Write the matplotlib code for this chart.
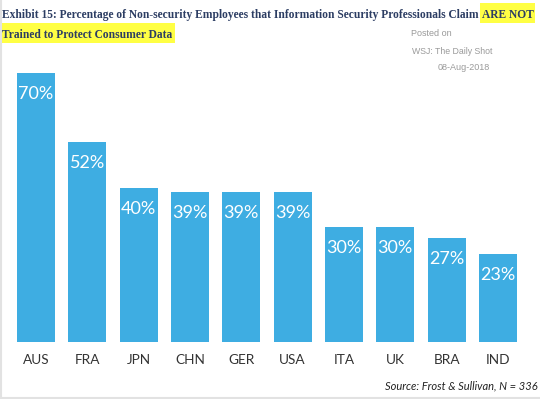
import matplotlib
matplotlib.use('Agg')
import matplotlib.pyplot as plt
from matplotlib.patches import Rectangle

"""
  Chart data
"""
countries = ['AUS', 'FRA', 'JPN', 'CHN', 'GER', 'USA', 'ITA', 'UK', 'BRA', 'IND']
pct = [70, 52, 40, 39, 39, 39, 30, 30, 27, 23]

title_1 = 'Exhibit 15: Percentage of Non-security Employees that Information Security Professionals Claim '
title_hl_1 = 'ARE NOT'
title_hl_2 = 'Trained to Protect Consumer Data'
source = 'Source: Frost & Sullivan, N = 336'

bar_color = '#3eade2'
title_color = '#2c3d63'
hl_color = '#ffff44'
label_font = 'Lato'

W, H = 540, 399
fig = plt.figure(figsize=(W / 100, H / 100), dpi=100)

"""
  Bars
"""
left = 10.3 / W
right = 523.6 / W
bottom = (H - 342) / H
top = 73 / H
ax = fig.add_axes([left, bottom, right - left, 1 - top - bottom])
x = range(len(countries))
ax.bar(x, pct, width=0.74, color=bar_color)
ax.set_xlim(-0.5, len(countries) - 0.5)
ax.set_ylim(0, 70)
for s in ax.spines.values():
    s.set_visible(False)
ax.set_yticks([])
ax.set_xticks(list(x))
ax.set_xticklabels(countries, fontsize=9.8, color='#333333', family=label_font)
ax.tick_params(axis='x', length=0, pad=9)
for i, v in enumerate(pct):
    ax.annotate('%d%%' % v, (i, v), xytext=(0, -21), textcoords='offset pixels',
                ha='center', va='center', color='white', fontsize=13, family=label_font)

"""
  Title with highlighted part -- fit first line to the figure width
"""
tkw = dict(family='Liberation Serif', weight='bold', color=title_color, va='baseline', ha='left')
fs = 9.6
t1 = fig.text(2 / W, 1 - 18 / H, title_1, fontsize=fs, **tkw)
t2 = fig.text(0, 1 - 18 / H, title_hl_1, fontsize=fs, **tkw)
t3 = fig.text(2 / W, 1 - 38 / H, title_hl_2, fontsize=fs, **tkw)
fig.canvas.draw()
r = fig.canvas.get_renderer()
w = t1.get_window_extent(r).width + t2.get_window_extent(r).width
fs = fs * 535.0 / w
for t in (t1, t2, t3):
    t.set_fontsize(fs)
fig.canvas.draw()
e1 = t1.get_window_extent(r)
t2.set_x(e1.x1 / W)
e2 = t2.get_window_extent(r)
e3 = t3.get_window_extent(r)
fig.patches.append(Rectangle(((e2.x0 - 2) / W, 1 - 23 / H), (e2.width + 4) / W, 20 / H,
                             transform=fig.transFigure, facecolor=hl_color, edgecolor='none', zorder=0))
fig.patches.append(Rectangle((0, 1 - 43 / H), (e3.x1 + 3) / W, 20 / H,
                             transform=fig.transFigure, facecolor=hl_color, edgecolor='none', zorder=0))

"""
  Posted on / source
"""
fig.text(411 / W, 1 - 34 / H, 'Posted on', fontsize=6.5, color='#9a9a9a',
         family='Liberation Sans', va='center', ha='left')
fig.text(412 / W, 1 - 51 / H, 'WSJ: The Daily Shot', fontsize=6.3, color='#9a9a9a',
         family='Liberation Sans', va='center', ha='left')
fig.text(490 / W, 1 - 67 / H, '08-Aug-2018', fontsize=6.5, color='#9a9a9a',
         family='Liberation Sans', va='center', ha='right')
fig.text(538 / W, 1 - 386 / H, source, fontsize=8, color='#222222', family=label_font,
         style='italic', va='center', ha='right')

"""
  light border on left and bottom
"""
fig.add_artist(plt.Line2D([1 / W, 1 / W], [0, 1], color='#e2e2e2', lw=1.5))
fig.add_artist(plt.Line2D([0, 1], [1.5 / H, 1.5 / H], color='#e2e2e2', lw=1.5))

fig.savefig('out.png', dpi=100)
